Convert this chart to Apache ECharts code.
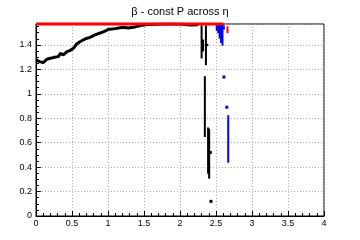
<!DOCTYPE html>
<html><head><meta charset="utf-8">
<script src="https://cdn.jsdelivr.net/npm/echarts@6/dist/echarts.min.js"></script>
<style>html,body{margin:0;padding:0;background:#fff}#c{width:360px;height:240px}</style>
</head><body><div id="c"></div>
<script>
var title = "β - const P across η";
var xTicks = [0, 0.5, 1, 1.5, 2, 2.5, 3, 3.5, 4];
var yTicks = [0, 0.2, 0.4, 0.6, 0.8, 1, 1.2, 1.4];
var yMax = 1.5708;

var curveX = [0.0, 0.05, 0.10, 0.15, 0.20, 0.24, 0.31, 0.34, 0.38, 0.43, 0.47, 0.52, 0.565, 0.61, 0.68, 0.75, 0.82, 0.89, 0.95, 1.0, 1.1, 1.21, 1.28, 1.375, 1.47, 1.55, 1.65, 1.8, 2.0, 2.15, 2.25];
var curveY = [1.277, 1.263, 1.255, 1.282, 1.29, 1.296, 1.304, 1.33, 1.318, 1.345, 1.353, 1.372, 1.408, 1.426, 1.448, 1.462, 1.481, 1.497, 1.511, 1.525, 1.533, 1.544, 1.538, 1.547, 1.56, 1.566, 1.569, 1.57, 1.57, 1.563, 1.565];

var redLineX = [0, 2.6];
var redLineY = [1.5708, 1.5708];
var redBarX = [2.61, 2.66];
var redBarTop = [1.558, 1.548];
var redBarBottom = [1.552, 1.50];

var blackBarX = [2.30, 2.32, 2.36, 2.38, 2.345, 2.39, 2.405];
var blackBarTop = [1.555, 1.44, 1.555, 1.405, 1.14, 0.72, 0.71];
var blackBarBottom = [1.293, 1.35, 1.238, 1.395, 0.65, 0.35, 0.31];
var blackDotX = [2.42, 2.43];
var blackDotY = [0.52, 0.12];

var blueBarX = [2.51, 2.53, 2.55, 2.57, 2.59, 2.61, 2.67];
var blueBarTop = [1.57, 1.57, 1.57, 1.57, 1.57, 1.545, 0.82];
var blueBarBottom = [1.52, 1.50, 1.456, 1.42, 1.397, 1.53, 0.44];
var blueDotX = [2.61, 2.65];
var blueDotY = [1.137, 0.89];

function bars(xs, tops, bots) {
  return xs.map(function (x, i) { return [x, tops[i], bots[i]]; });
}
function pairs(xs, ys) { return xs.map(function (x, i) { return [x, ys[i]]; }); }
function barSeries(data, color) {
  return {
    type: 'custom', data: data, clip: false, z: 3,
    encode: { x: 0, y: [1, 2] },
    renderItem: function (params, api) {
      var a = api.coord([api.value(0), api.value(1)]);
      var b = api.coord([api.value(0), api.value(2)]);
      return { type: 'line', shape: { x1: a[0], y1: a[1] - 0.5, x2: b[0], y2: b[1] + 0.5 },
        style: { stroke: color, lineWidth: 2 } };
    }
  };
}

var chart = echarts.init(document.getElementById('c'), null, { renderer: 'canvas' });
var fontFam = '"Liberation Sans", Arial, sans-serif';
chart.setOption({
  animation: false,
  backgroundColor: '#fff',
  title: { text: title, left: 'center', top: 1,
    textStyle: { fontFamily: fontFam, fontSize: 11, fontWeight: 'normal', color: '#000' } },
  grid: { left: 36, right: 36, top: 24, bottom: 24, show: true, borderColor: '#000', borderWidth: 1, backgroundColor: 'transparent' },
  xAxis: {
    type: 'value', min: xTicks[0], max: xTicks[xTicks.length - 1], interval: 0.5,
    axisLine: { lineStyle: { color: '#000', width: 1 } },
    axisTick: { inside: true, length: 5, lineStyle: { color: '#000' } },
    minorTick: { show: true, splitNumber: 5, length: 3, lineStyle: { color: '#000' } },
    splitLine: { show: true, lineStyle: { color: '#aaa', type: [1, 2] } },
    axisLabel: { fontFamily: fontFam, fontSize: 9, color: '#000', margin: 3,
      formatter: function (v) { return String(+v.toFixed(2)); } }
  },
  yAxis: {
    type: 'value', min: yTicks[0], max: yMax, interval: 0.2,
    axisLine: { show: true, lineStyle: { color: '#000', width: 1 } },
    axisTick: { show: true, inside: true, length: 5, lineStyle: { color: '#000' } },
    minorTick: { show: true, splitNumber: 4, length: 3, lineStyle: { color: '#000' } },
    splitLine: { show: true, lineStyle: { color: '#aaa', type: [1, 2] } },
    axisLabel: { fontFamily: fontFam, fontSize: 9, color: '#000', margin: 4, showMaxLabel: false,
      formatter: function (v) { return String(+v.toFixed(2)); } }
  },
  series: [
    { type: 'line', data: pairs(curveX, curveY), showSymbol: false, z: 2,
      lineStyle: { color: '#000', width: 3 } },
    { type: 'line', data: pairs(redLineX, redLineY), showSymbol: false, clip: false, z: 4,
      lineStyle: { color: '#f00', width: 3 } },
    barSeries(bars(redBarX, redBarTop, redBarBottom), '#f00'),
    barSeries(bars(blackBarX, blackBarTop, blackBarBottom), '#000'),
    barSeries(bars(blueBarX, blueBarTop, blueBarBottom), '#00f'),
    { type: 'scatter', data: pairs(blackDotX, blackDotY), symbol: 'rect', symbolSize: 3,
      itemStyle: { color: '#000', opacity: 1 } },
    { type: 'scatter', data: pairs(blueDotX, blueDotY), symbol: 'rect', symbolSize: 3,
      itemStyle: { color: '#00f', opacity: 1 } }
  ]
});
</script></body></html>
